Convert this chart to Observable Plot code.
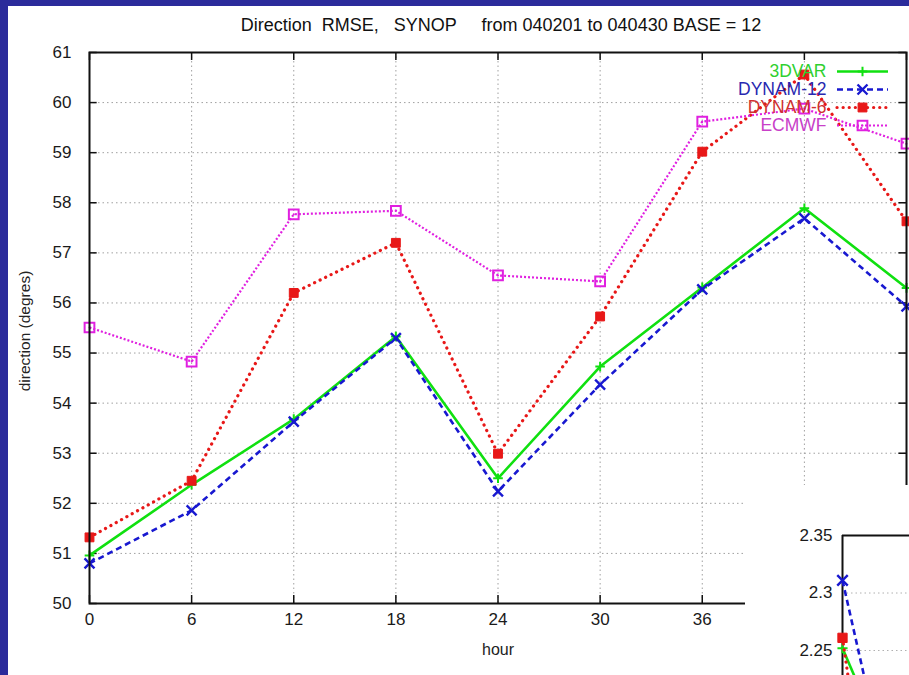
<!DOCTYPE html>
<html><head><meta charset="utf-8">
<script src="https://cdn.jsdelivr.net/npm/d3@7"></script>
<script src="https://cdn.jsdelivr.net/npm/@observablehq/plot@0.6"></script>
<style>
html,body{margin:0;padding:0}
body{width:909px;height:675px;overflow:hidden;position:relative;background:#2b2b9b;font-family:"Liberation Sans",Arial,sans-serif}
#panel{position:absolute;left:8px;top:6px;right:0;bottom:0;background:#fff}
#title{position:absolute;left:0;width:1002px;top:14px;text-align:center;font-size:18px;white-space:pre;color:#111;line-height:22px}
#chart{position:absolute;left:8px;top:46px}
#ylabel{position:absolute;left:-75px;top:321px;width:200px;height:20px;line-height:20px;text-align:center;font-size:15.5px;color:#222;transform:rotate(-90deg)}
#xlabel{position:absolute;left:448px;top:640px;width:100px;line-height:20px;text-align:center;font-size:16px;color:#222}
#legend{position:absolute;left:700px;top:55px}
#inset{position:absolute;left:745px;top:485px;width:164px;height:190px;background:#fff;overflow:hidden}
</style></head>
<body>
<div id="panel"></div>
<div id="title">Direction  RMSE,   SYNOP     from 040201 to 040430 BASE = 12</div>
<div id="chart"></div>
<div id="ylabel">direction (degres)</div>
<div id="xlabel">hour</div>
<div id="legend"></div>
<div id="inset"></div>
<script>
// ---- data ----
const hours = [0, 6, 12, 18, 24, 30, 36, 42, 48];
const var3d = [50.96, 52.37, 53.68, 55.33, 52.5, 54.73, 56.31, 57.89, 56.3];
const dynam12 = [50.8, 51.86, 53.63, 55.3, 52.24, 54.37, 56.27, 57.69, 55.93];
const dynam6 = [51.32, 52.45, 56.2, 57.2, 52.99, 55.73, 59.02, 60.56, 57.63];
const ecmwf = [55.51, 54.83, 57.77, 57.84, 56.55, 56.43, 59.62, 59.88, 59.18];
const seriesNames = ["3DVAR", "DYNAM-12", "DYNAM-6", "ECMWF"];
const xTicks = [0, 6, 12, 18, 24, 30, 36, 42, 48];
const xTickLabels = [0, 6, 12, 18, 24, 30, 36]; // 42 and 48 are hidden under the overlapping chart
const yTicks = [50, 51, 52, 53, 54, 55, 56, 57, 58, 59, 60, 61];
// inset (second chart, partly hidden)
const insetHours = [0, 6];
const inset3dvar = [2.252, 2.13];
const insetDynam12 = [2.311, 2.08];
const insetDynam6 = [2.261, 1.9];
const insetTicks = [2.25, 2.3, 2.35];

// ---- styles ----
const styles = {
  "3DVAR":   {color: "#10e010", text: "#30d030", width: 2.6, dash: null, cap: "butt", symbol: "plus", r: 3.2, fill: "none", sw: 2},
  "DYNAM-12":{color: "#1818d0", text: "#2828b0", width: 2.6, dash: "6,4", cap: "butt", symbol: "times", r: 4.6, fill: "none", sw: 2.4},
  "DYNAM-6": {color: "#e81818", text: "#d03030", width: 3.2, dash: "0.1,6", cap: "round", symbol: "square", r: 5.0, fill: "#e81818", sw: 1},
  "ECMWF":   {color: "#e020e0", text: "#c840c8", width: 2.2, dash: "2,2", cap: "butt", symbol: "square", r: 5.5, fill: "none", sw: 2}
};
const seriesVals = {"3DVAR": var3d, "DYNAM-12": dynam12, "DYNAM-6": dynam6, "ECMWF": ecmwf};
const rows = name => hours.map((h, i) => ({hour: h, value: seriesVals[name][i]}));

const seriesMarks = [];
for (const name of seriesNames) {
  const s = styles[name], d = rows(name);
  seriesMarks.push(Plot.line(d, {x: "hour", y: "value", stroke: s.color, strokeWidth: s.width,
    strokeDasharray: s.dash, strokeLinecap: s.cap}));
  seriesMarks.push(Plot.dot(d, {x: "hour", y: "value", symbol: s.symbol, r: s.r, stroke: s.color,
    fill: s.fill, strokeWidth: s.sw}));
  if (name === "ECMWF") seriesMarks.push(Plot.dot(d, {x: "hour", y: "value", r: 1, fill: s.color}));
}

const chart = Plot.plot({
  width: 901, height: 629,
  marginLeft: 81, marginRight: 3, marginTop: 6, marginBottom: 72,
  x: {domain: [0, 48], ticks: xTickLabels, tickSize: 0, tickPadding: 9, label: null},
  y: {domain: [50, 61], ticks: yTicks, tickSize: 0, tickPadding: 18, label: null},
  style: {fontFamily: "Liberation Sans, Arial, sans-serif", fontSize: "17px", color: "#1a1a1a", background: "transparent", overflow: "visible"},
  marks: [
    Plot.ruleX(xTicks, {stroke: "#a0a0a0", strokeWidth: 1, strokeDasharray: "1.5,3"}),
    Plot.ruleY(yTicks, {stroke: "#a0a0a0", strokeWidth: 1, strokeDasharray: "1.5,3"}),
    Plot.ruleY(yTicks, {x1: 0, x2: 0.45, stroke: "#111", strokeWidth: 1.5}),
    Plot.ruleY(yTicks, {x1: 47.55, x2: 48, stroke: "#111", strokeWidth: 1.5}),
    Plot.ruleX(xTicks, {y1: 50, y2: 50.16, stroke: "#111", strokeWidth: 1.5}),
    Plot.ruleX(xTicks, {y1: 60.84, y2: 61, stroke: "#111", strokeWidth: 1.5}),
    ...seriesMarks,
    Plot.frame({stroke: "#111", strokeWidth: 2})
  ]
});
document.getElementById("chart").append(chart);

// ---- legend ----
const legendMarks = [];
seriesNames.forEach(name => {
  const s = styles[name];
  legendMarks.push(Plot.text([name], {x: () => 126, y: d => d, text: d => d, textAnchor: "end", fill: s.text}));
  legendMarks.push(Plot.ruleY([name], {x1: () => 137, x2: () => 188, y: d => d, stroke: s.color, strokeWidth: s.width, strokeDasharray: s.dash, strokeLinecap: s.cap}));
  legendMarks.push(Plot.dot([name], {x: () => 162, y: d => d, symbol: s.symbol, r: s.r, stroke: s.color, fill: s.fill, strokeWidth: s.sw}));
  if (name === "ECMWF") legendMarks.push(Plot.dot([name], {x: () => 162, y: d => d, r: 1, fill: s.color}));
});
const legend = Plot.plot({
  width: 209, height: 85, margin: 0,
  x: {domain: [0, 209], range: [0, 209], axis: null},
  y: {type: "point", domain: seriesNames, range: [15, 70.5], padding: 0, axis: null},
  style: {fontFamily: "Liberation Sans, Arial, sans-serif", fontSize: "17.5px", background: "transparent", overflow: "visible"},
  marks: legendMarks
});
document.getElementById("legend").append(legend);

// ---- inset (second chart overlapping bottom-right) ----
const insetSeries = [["3DVAR", inset3dvar], ["DYNAM-12", insetDynam12], ["DYNAM-6", insetDynam6]];
const insetMarks = [
  Plot.ruleY(insetTicks, {x1: 0, x2: 48, stroke: "#b0b0b0", strokeDasharray: "1.5,3"}),
  Plot.ruleY([2.35], {x1: 0, x2: 48, stroke: "#111", strokeWidth: 2}),
  Plot.ruleX([0], {y1: 1.8, y2: 2.35, stroke: "#111", strokeWidth: 2})
];
for (const [name, vals] of insetSeries) {
  const s = styles[name];
  const d = insetHours.map((h, i) => ({hour: h, value: vals[i]}));
  insetMarks.push(Plot.line(d, {x: "hour", y: "value", stroke: s.color, strokeWidth: s.width, strokeDasharray: s.dash, strokeLinecap: s.cap}));
  insetMarks.push(Plot.dot(d, {x: "hour", y: "value", symbol: s.symbol, r: s.r * 1.05, stroke: s.color, fill: s.fill, strokeWidth: s.sw}));
}
const inset = Plot.plot({
  width: 164, height: 190, marginLeft: 97, marginTop: 50, marginRight: 0, marginBottom: 0,
  x: {domain: [0, 48], range: [97, 577], axis: null},
  y: {domain: [1.8, 2.35], range: [682.5, 50], ticks: insetTicks, tickSize: 0, tickPadding: 10, tickFormat: d => String(d), label: null},
  style: {fontFamily: "Liberation Sans, Arial, sans-serif", fontSize: "17px", color: "#1a1a1a", background: "#fff", overflow: "hidden"},
  marks: insetMarks
});
document.getElementById("inset").append(inset);
</script>
</body></html>
